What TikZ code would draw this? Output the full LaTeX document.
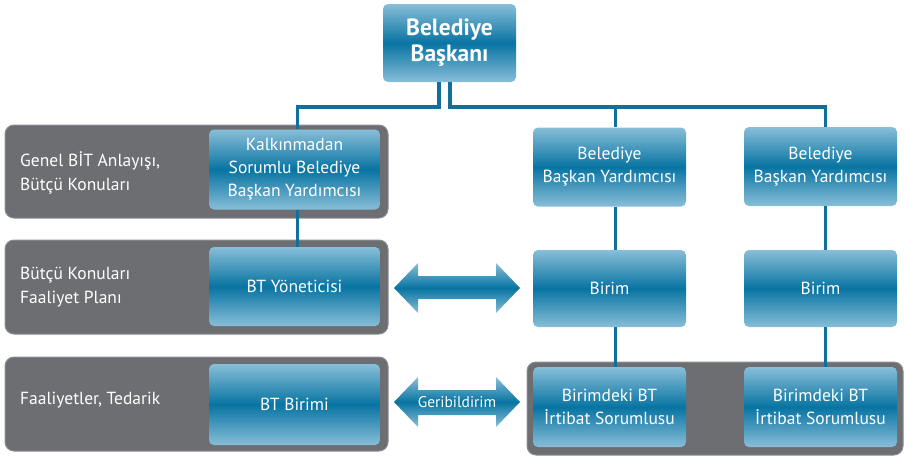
\documentclass[tikz,border=0pt]{standalone}
\usepackage{fontspec}
\setmainfont{PT Sans}
\usetikzlibrary{calc}
\definecolor{boxlight}{RGB}{136,190,216}
\definecolor{boxdark}{RGB}{8,116,162}
\definecolor{panelgray}{RGB}{109,110,113}
\definecolor{paneledge}{RGB}{140,141,144}
\definecolor{linkblue}{RGB}{16,112,156}
\tikzset{
  x=1pt, y=-1pt,
  bluebox/.style={rectangle, rounded corners=5pt, top color=boxlight, bottom color=boxlight,
    middle color=boxdark, text=white, align=center, inner sep=0pt,
    font=\fontsize{17.5}{23}\selectfont},
  panel/.style={rounded corners=9pt, fill=panelgray, draw=paneledge, line width=1pt},
  paneltext/.style={text=white, align=left, anchor=west, inner sep=0pt,
    font=\fontsize{17.5}{24}\selectfont},
  link/.style={draw=linkblue, line width=3.6pt},
  bigarrow/.style={top color=boxlight, bottom color=boxlight, middle color=boxdark},
}
\begin{document}
\begin{tikzpicture}
\useasboundingbox (0,0) rectangle (904,459);

% grey row panels
\draw[panel] (5,125) rectangle (388,218);
\draw[panel] (5,240) rectangle (388,334);
\draw[panel] (5,357) rectangle (388,451);
\draw[panel] (527,362) rectangle (903,455);

% row captions
\node[paneltext] (cap1) at (20,173) {Genel BİT Anlayışı,\\Bütçü Konuları};
\node[paneltext] (cap2) at (20,287) {Bütçü Konuları\\Faaliyet Planı};
\node[paneltext] (cap3) at (20,400) {Faaliyetler, Tedarik};

% boxes
\node[bluebox, minimum width=133pt, minimum height=78pt,
      font=\fontsize{23.5}{26}\selectfont\bfseries] (mayor) at (449.5,43) {Belediye\\Başkanı};
\node[bluebox, minimum width=171pt, minimum height=80pt] (deputy0) at (294.5,169.5)
  {Kalkınmadan\\Sorumlu Belediye\\Başkan Yardımcısı};
\node[bluebox, minimum width=171pt, minimum height=79pt] (itman) at (294.5,286.5) {BT Yöneticisi};
\node[bluebox, minimum width=171pt, minimum height=81pt] (itunit) at (294.5,404.5) {BT Birimi};

\node[bluebox, minimum width=153pt, minimum height=79pt] (deputy1) at (609.5,167) {Belediye\\Başkan Yardımcısı};
\node[bluebox, minimum width=153pt, minimum height=79pt] (deputy2) at (820.5,166.5) {Belediye\\Başkan Yardımcısı};
\node[bluebox, minimum width=153pt, minimum height=77pt] (unit1) at (609.5,288.5) {Birim};
\node[bluebox, minimum width=153pt, minimum height=77pt] (unit2) at (820.5,288.5) {Birim};
\node[bluebox, minimum width=153pt, minimum height=80pt] (contact1) at (609.5,407) {Birimdeki BT\\İrtibat Sorumlusu};
\node[bluebox, minimum width=153pt, minimum height=80pt] (contact2) at (820.5,407) {Birimdeki BT\\İrtibat Sorumlusu};

% hierarchy links
\coordinate (busL) at (439,107);
\coordinate (busR) at (450,107);
\coordinate (d1top) at ([xshift=6pt]deputy1.north);
\draw[link] ([xshift=-10.5pt]mayor.south) |- (busL) -| ([xshift=3pt]deputy0.north);
\draw[link] ([xshift=0.5pt]mayor.south) |- (busR) -| ([xshift=5pt]deputy2.north);
\draw[link] (busR -| d1top) -- (d1top);
\draw[link] ([xshift=3pt]deputy0.south) -- ([xshift=3pt]itman.north);
\draw[link] ([xshift=6pt]deputy1.south) -- ([xshift=6pt]unit1.north);
\draw[link] ([xshift=5pt]deputy2.south) -- ([xshift=5pt]unit2.north);
\draw[link] ([xshift=6pt]unit1.south) -- ([xshift=6pt]contact1.north);
\draw[link] ([xshift=5pt]unit2.south) -- ([xshift=5pt]contact2.north);

% double arrows
\path[bigarrow] (394,288) -- (418,263) -- (418,276) -- (496,276) -- (496,263) -- (520,288)
  -- (496,313) -- (496,299) -- (418,299) -- (418,313) -- cycle;
\path[bigarrow] (394,402) -- (418,377) -- (418,390) -- (496,390) -- (496,377) -- (520,402)
  -- (496,427) -- (496,415) -- (418,415) -- (418,427) -- cycle;
\node[text=white, inner sep=0pt, font=\fontsize{15.5}{17}\selectfont] (fb) at (457,402) {Geribildirim};
\end{tikzpicture}
\end{document}
